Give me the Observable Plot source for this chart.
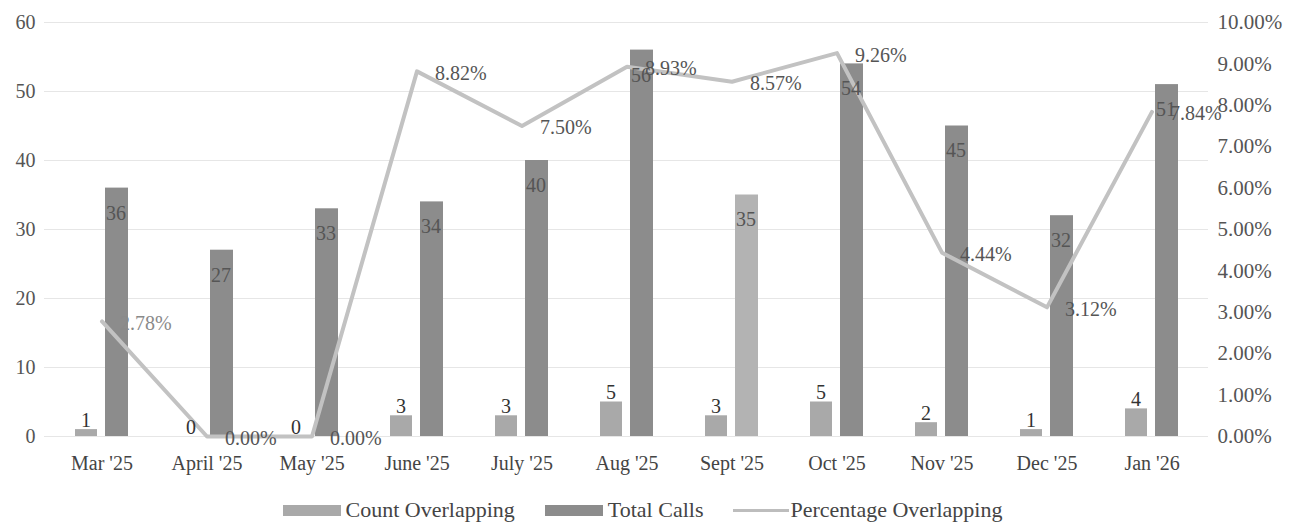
<!DOCTYPE html>
<html>
<head>
<meta charset="utf-8">
<script src="https://cdn.jsdelivr.net/npm/d3@7"></script>
<script src="https://cdn.jsdelivr.net/npm/@observablehq/plot@0.6"></script>
<style>
  html, body { margin: 0; padding: 0; background: #fff; }
  body { width: 1295px; height: 529px; overflow: hidden; font-family: 'Liberation Serif', 'Times New Roman', serif; }
  #legend { display: flex; justify-content: center; align-items: center; gap: 30px; font-size: 22px; color: #444; height: 36px; margin-left: -10px; margin-top: 2px; font-family: 'Liberation Serif', 'Times New Roman', serif; }
  .item { display: flex; align-items: center; gap: 5px; }
  .sw { width: 58px; height: 11px; display: inline-block; }
  .ln { width: 56px; height: 3px; display: inline-block; background: #bdbdbd; margin-right: -4px; }
</style>
</head>
<body>
<div id="chart"></div>
<div id="legend"></div>
<script>
const months = ["Mar '25","April '25","May '25","June '25","July '25","Aug '25","Sept '25","Oct '25","Nov '25","Dec '25","Jan '26"];
const countOverlapping = [1,0,0,3,3,5,3,5,2,1,4];
const totalCalls = [36,27,33,34,40,56,35,54,45,32,51];
const pctOverlapping = [2.78,0.00,0.00,8.82,7.50,8.93,8.57,9.26,4.44,3.12,7.84];
const leftTicks = [0,10,20,30,40,50,60];
const rightTicks = [0,1,2,3,4,5,6,7,8,9,10];
const seriesNames = ["Count Overlapping","Total Calls","Percentage Overlapping"];

const colorCount = "#a9a9a9";
const colorTotal = "#8c8c8c";
const colorTotalLight = "#b3b3b3";
const colorLine = "#c2c2c2";

const rows = months.map((m, i) => ({
  month: m,
  count: countOverlapping[i],
  total: totalCalls[i],
  pct: pctOverlapping[i],
  pctScaled: pctOverlapping[i] * 6
}));

const font = "'Liberation Serif', 'Times New Roman', serif";

const chart = Plot.plot({
  width: 1295,
  height: 490,
  marginLeft: 44,
  marginRight: 87,
  marginTop: 22,
  marginBottom: 54,
  style: { fontFamily: font, fontSize: "20px", color: "#555", background: "#fff" },
  x: { type: "band", domain: months, padding: 0, label: null },
  y: { domain: [0, 60], label: null },
  marks: [
    Plot.ruleY(leftTicks, { stroke: "#e6e6e6", strokeWidth: 1 }),
    Plot.axisY({ ticks: leftTicks, tickSize: 0, tickPadding: 9, label: null, fontSize: 20, fontFamily: font, fill: "#555" }),
    Plot.axisY({ anchor: "right", ticks: rightTicks.map(t => t * 6), tickFormat: (d) => (d / 6).toFixed(2) + "%", tickSize: 0, tickPadding: 9, label: null, fontSize: 21, fontFamily: font, fill: "#555" }),
    Plot.axisX({ tickSize: 0, tickPadding: 19, label: null, fontSize: 20, fontFamily: font, fill: "#444" }),
    Plot.barY(rows, { x: "month", y: "count", fill: colorCount, insetLeft: 26, insetRight: 57 }),
    Plot.barY(rows, { x: "month", y: "total", fill: (d) => d.month === "Sept '25" ? colorTotalLight : colorTotal, insetLeft: 56, insetRight: 26 }),
    Plot.line(rows, { x: "month", y: "pctScaled", stroke: colorLine, strokeWidth: 4 }),
    Plot.text(rows, { x: "month", y: "count", text: (d) => String(d.count), dx: -16, dy: -9, fill: "#333", fontSize: 20, fontFamily: font }),
    Plot.text(rows, { x: "month", y: "total", text: (d) => String(d.total), dx: 14, dy: 25, fill: "#555", fontSize: 20, fontFamily: font }),
    Plot.text(rows, { x: "month", y: "pctScaled", text: (d) => d.pct.toFixed(2) + "%", textAnchor: "start", dx: 18, dy: 2, fill: (d) => d.month === "Mar '25" ? "#8a8a8a" : "#555", fontSize: 20, fontFamily: font })
  ]
});
document.getElementById("chart").appendChild(chart);

const legend = document.getElementById("legend");
const swatches = [
  `<span class="sw" style="background:${colorCount}"></span>`,
  `<span class="sw" style="background:${colorTotal}"></span>`,
  `<span class="ln"></span>`
];
seriesNames.forEach((name, i) => {
  const item = document.createElement("div");
  item.className = "item";
  item.innerHTML = swatches[i] + `<span>${name}</span>`;
  legend.appendChild(item);
});
</script>
</body>
</html>
